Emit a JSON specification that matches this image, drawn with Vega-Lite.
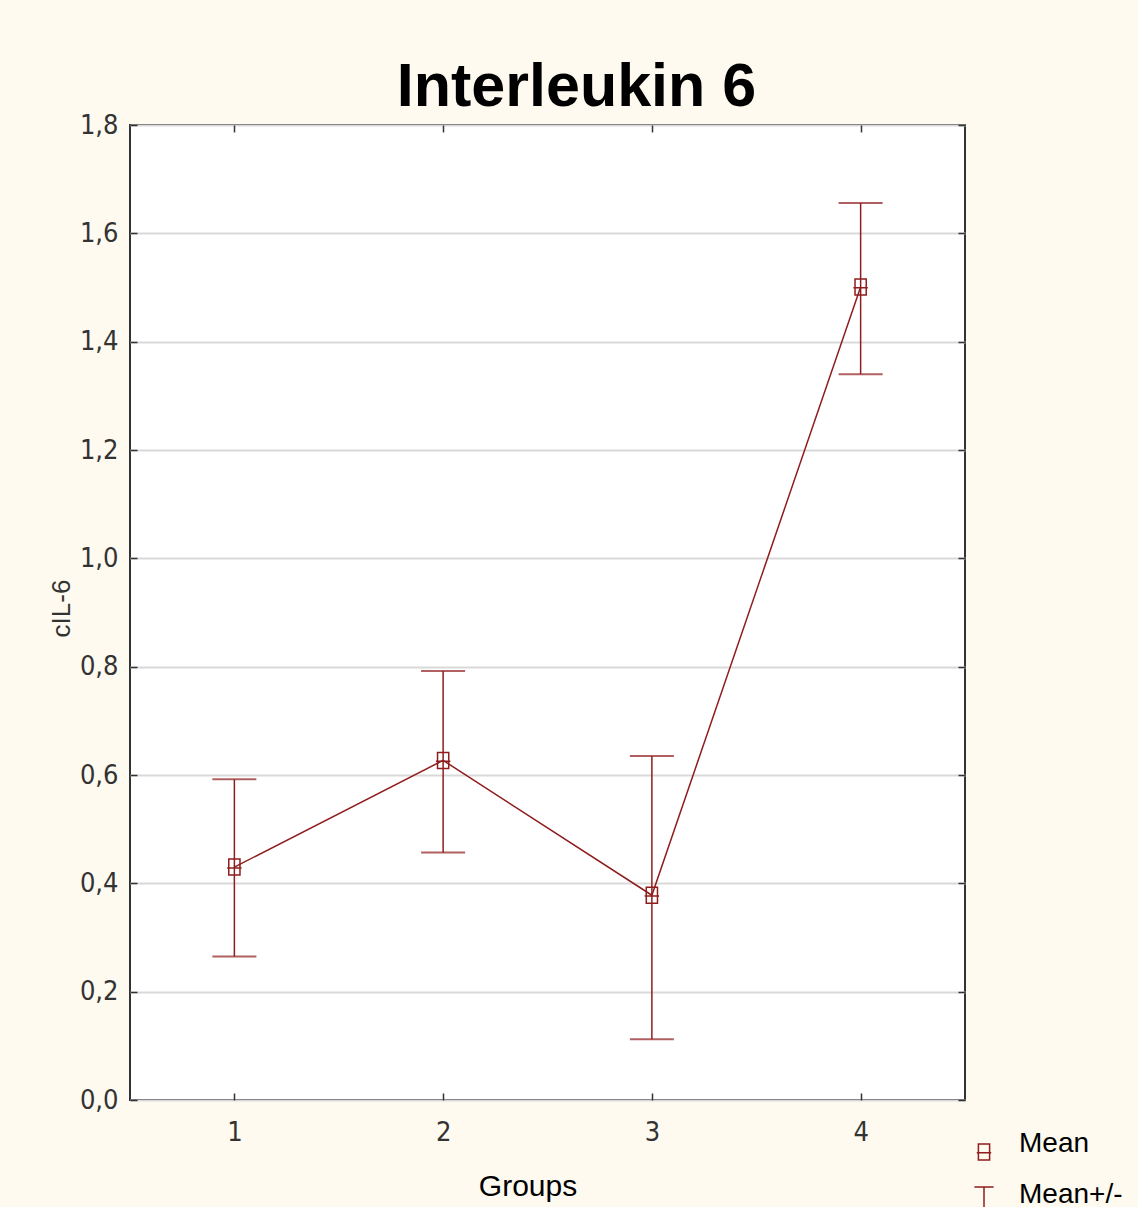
{
  "$schema": "https://vega.github.io/schema/vega-lite/v6.json",
  "autosize": {"type": "none"},
  "width": 835,
  "height": 975,
  "padding": {"left": 130, "top": 125, "right": 173, "bottom": 107},
  "background": "#fefaf0",
  "view": {"fill": "white", "stroke": "#333333", "strokeWidth": 2},
  "title": {
    "text": "Interleukin 6",
    "font": "Liberation Sans",
    "fontSize": 61,
    "fontWeight": "bold",
    "color": "black",
    "anchor": "middle",
    "dx": 29,
    "dy": 73,
    "baseline": "alphabetic",
    "offset": 17
  },
  "data": {
    "values": [
      {"group": 1, "mean": 0.430, "low": 0.265, "high": 0.592},
      {"group": 2, "mean": 0.627, "low": 0.457, "high": 0.792},
      {"group": 3, "mean": 0.378, "low": 0.112, "high": 0.635},
      {"group": 4, "mean": 1.501, "low": 1.340, "high": 1.656}
    ]
  },
  "config": {
    "axis": {
      "labelFont": "DejaVu Sans Condensed, Liberation Sans Narrow, Liberation Sans",
      "labelFontSize": 27,
      "labelColor": "#333333",
      "tickColor": "#333333",
      "tickWidth": 1.5,
      "domain": false,
      "titleFont": "Liberation Sans",
      "titleFontWeight": "normal",
      "titleColor": "#222222"
    }
  },
  "layer": [
    {
      "mark": {"type": "line", "color": "#8f1d1d", "strokeWidth": 1.5},
      "encoding": {
        "x": {
          "field": "group", "type": "quantitative",
          "scale": {"domain": [0.5, 4.5], "nice": false, "zero": false},
          "axis": {
            "orient": "bottom", "values": [1, 2, 3, 4], "format": "d", "grid": false,
            "tickSize": -7, "labelPadding": 26,
            "title": "Groups", "titleFontSize": 30, "titleColor": "black",
            "titleAnchor": null, "titleX": 397.5, "titleY": 95, "titleBaseline": "alphabetic"
          }
        },
        "y": {
          "field": "mean", "type": "quantitative",
          "scale": {"domain": [0, 1.8], "nice": false},
          "axis": {
            "orient": "left",
            "values": [0, 0.2, 0.4, 0.6, 0.8, 1.0, 1.2, 1.4, 1.6, 1.8],
            "format": ".1f",
            "labelExpr": "replace(datum.label, '.', ',')",
            "grid": true, "gridColor": "#d9d9d9", "gridWidth": 2,
            "tickSize": -7, "labelPadding": 19,
            "title": "cIL-6", "titleFontSize": 26, "titleColor": "#333333",
            "titleAngle": 270, "titleAnchor": null, "titleX": -69, "titleY": 483,
            "titleBaseline": "middle", "titleAlign": "center"
          }
        }
      }
    },
    {
      "mark": {
        "type": "errorbar",
        "color": "#8f1d1d",
        "thickness": 1.5,
        "ticks": {"size": 44, "thickness": 2, "color": "#8f1d1d"}
      },
      "encoding": {
        "x": {
          "field": "group", "type": "quantitative",
          "axis": {"orient": "top", "values": [1, 2, 3, 4], "labels": false, "grid": false, "tickSize": -7, "title": null}
        },
        "y": {
          "field": "low", "type": "quantitative",
          "axis": {"orient": "right", "values": [0, 0.2, 0.4, 0.6, 0.8, 1.0, 1.2, 1.4, 1.6, 1.8], "labels": false, "grid": false, "tickSize": -7, "title": null}
        },
        "y2": {"field": "high"}
      }
    },
    {
      "mark": {"type": "point", "filled": false, "strokeWidth": 1.5, "size": 1024, "opacity": 1, "color": "#8f1d1d"},
      "encoding": {
        "x": {"field": "group", "type": "quantitative", "axis": null},
        "y": {"field": "mean", "type": "quantitative", "axis": null},
        "shape": {
          "datum": "Mean",
          "scale": {
            "domain": ["Mean", "Mean+/-SE"],
            "range": [
              "M-0.35,-0.5H0.35V0.5H-0.35Z M-0.45,0.05H0.45",
              "M-0.6,-1H0.6 M0,-1V1 M-0.6,1H0.6"
            ]
          },
          "legend": {
            "orient": "none",
            "legendX": 837,
            "legendY": 1010,
            "title": null,
            "symbolSize": 1024,
            "symbolStrokeColor": "#8f1d1d",
            "symbolStrokeWidth": 1.5,
            "symbolOpacity": 1,
            "symbolFillColor": "transparent",
            "labelFont": "Liberation Sans",
            "labelFontSize": 28,
            "labelColor": "black",
            "labelOffset": 18,
            "labelBaseline": "alphabetic",
            "labelExpr": "datum.label == 'Mean+/-SE' ? ['Mean+/-', 'SE'] : datum.label",
            "rowPadding": 18
          }
        }
      }
    }
  ],
  "resolve": {"axis": {"x": "independent", "y": "independent"}}
}
